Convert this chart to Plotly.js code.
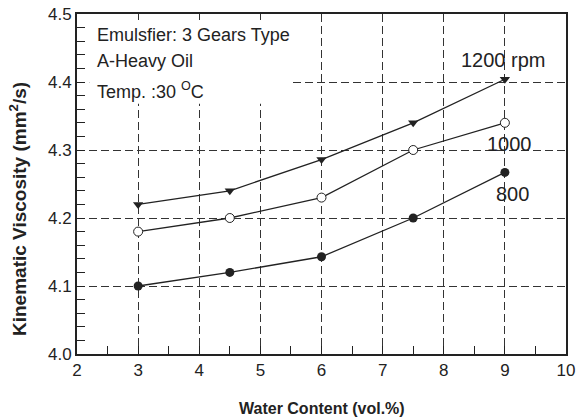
<!DOCTYPE html>
<html>
<head>
<meta charset="utf-8">
<script src="https://cdn.plot.ly/plotly-3.0.1.min.js"></script>
<style>html,body{margin:0;padding:0;background:#fff;}#chart{width:577px;height:420px;}</style>
</head>
<body>
<div id="chart"></div>
<script>
// Data
const waterContent = [3, 4.5, 6, 7.5, 9];
const visc1200 = [4.22, 4.24, 4.286, 4.34, 4.404];
const visc1000 = [4.18, 4.20, 4.23, 4.30, 4.34];
const visc800 = [4.10, 4.12, 4.143, 4.20, 4.267];
const seriesNames = ['1200 rpm', '1000', '800'];
const xTickVals = [2, 3, 4, 5, 6, 7, 8, 9, 10];
const yTickVals = [4.0, 4.1, 4.2, 4.3, 4.4, 4.5];
const infoLines = ['Emulsfier: 3 Gears Type', 'A-Heavy Oil', 'Temp. :30 <sup>O</sup>C'];

const FONT = 'Liberation Sans, Arial, sans-serif';
const INK = '#222';

const traces = [
  {x: waterContent, y: visc1200, name: seriesNames[0], mode: 'lines+markers',
   line: {color: INK, width: 1.3},
   marker: {symbol: 'triangle-down', size: 9, color: INK}},
  {x: waterContent, y: visc1000, name: seriesNames[1], mode: 'lines+markers',
   line: {color: INK, width: 1.3},
   marker: {symbol: 'circle', size: 9, color: '#fff', line: {color: INK, width: 1}}},
  {x: waterContent, y: visc800, name: seriesNames[2], mode: 'lines+markers',
   line: {color: INK, width: 1.3},
   marker: {symbol: 'circle', size: 9, color: INK}}
];

const axisCommon = {
  showline: true, linecolor: INK, linewidth: 2, mirror: true,
  ticks: 'inside', ticklen: 8, tickcolor: INK, tickwidth: 1,
  showgrid: true, gridcolor: '#333', gridwidth: 1, griddash: '8px,4px',
  zeroline: false,
  tickfont: {family: FONT, size: 17, color: INK}
};

const layout = {
  width: 577, height: 420,
  margin: {l: 77, r: 11, t: 14, b: 66},
  paper_bgcolor: '#fff', plot_bgcolor: '#fff',
  showlegend: false,
  xaxis: Object.assign({}, axisCommon, {
    range: [2, 10], tickvals: xTickVals, ticktext: xTickVals.map(String),
    minor: {dtick: 0.5, tick0: 2, ticks: 'inside', ticklen: 8, tickcolor: INK, showgrid: false}
  }),
  yaxis: Object.assign({}, axisCommon, {
    range: [4.0, 4.5], tickvals: yTickVals, ticktext: yTickVals.map(v => v.toFixed(1)),
    minor: {dtick: 0.02, tick0: 4.0, ticks: 'inside', ticklen: 8, tickcolor: INK, showgrid: false}
  }),
  shapes: [
    {type: 'rect', xref: 'x', yref: 'y', x0: 2.2, x1: 5.49, y0: 4.368, y1: 4.491,
     fillcolor: '#fff', line: {width: 0}, layer: 'above'}
  ],
  annotations: [
    {xref: 'x', yref: 'y', x: 2.3, y: 4.469, xanchor: 'left', yanchor: 'middle', text: infoLines[0],
     showarrow: false, font: {family: FONT, size: 18, color: INK}},
    {xref: 'x', yref: 'y', x: 2.3, y: 4.431, xanchor: 'left', yanchor: 'middle', text: infoLines[1],
     showarrow: false, font: {family: FONT, size: 18, color: INK}},
    {xref: 'x', yref: 'y', x: 2.3, y: 4.388, xanchor: 'left', yanchor: 'middle', text: infoLines[2],
     showarrow: false, font: {family: FONT, size: 18, color: INK}},
    {xref: 'x', yref: 'y', x: 8.98, y: 4.432, text: seriesNames[0], showarrow: false,
     font: {family: FONT, size: 20, color: INK}},
    {xref: 'x', yref: 'y', x: 9.07, y: 4.309, text: seriesNames[1], showarrow: false,
     font: {family: FONT, size: 20, color: INK}},
    {xref: 'x', yref: 'y', x: 9.12, y: 4.235, text: seriesNames[2], showarrow: false,
     font: {family: FONT, size: 20, color: INK}},
    {xref: 'paper', yref: 'paper', x: 0.5, y: -0.159, xanchor: 'center', yanchor: 'middle',
     text: '<b>Water Content (vol.%)</b>', showarrow: false,
     font: {family: FONT, size: 16, color: INK}},
    {xref: 'paper', yref: 'paper', x: -0.121, y: 0.426, xanchor: 'center', yanchor: 'middle',
     textangle: -90, text: '<b>Kinematic Viscosity (mm<sup>2</sup>/s)</b>', showarrow: false,
     font: {family: FONT, size: 19, color: INK}}
  ]
};

Plotly.newPlot('chart', traces, layout, {displayModeBar: false, staticPlot: true});
</script>
</body>
</html>
